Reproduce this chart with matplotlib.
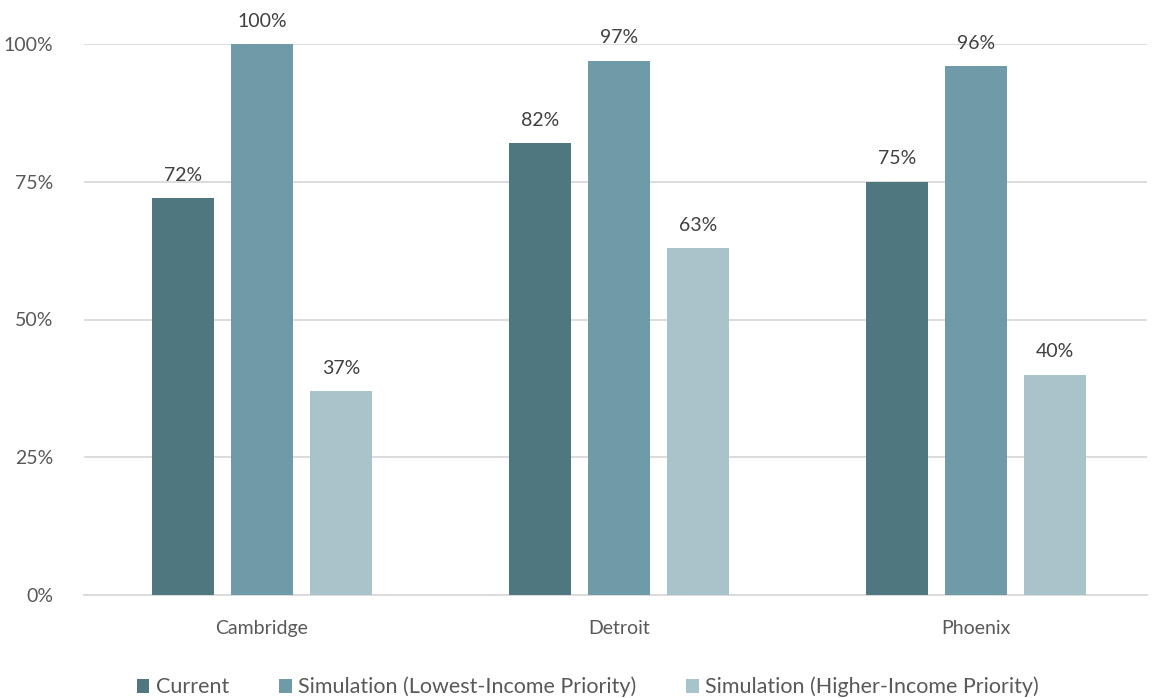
import matplotlib.pyplot as plt
import numpy as np

plt.rcParams['font.family'] = ['Lato', 'DejaVu Sans']

cities = ['Cambridge', 'Detroit', 'Phoenix']
series = ['Current', 'Simulation (Lowest-Income Priority)', 'Simulation (Higher-Income Priority)']
current = [72, 82, 75]
sim_lowest = [100, 97, 96]
sim_higher = [37, 63, 40]
colors = ['#4E7780', '#6E9BA7', '#A9C3CA']

fig = plt.figure(figsize=(11.57, 6.98), dpi=100)
ax = fig.add_axes([84 / 1157, 1 - 595 / 698, 1063 / 1157, 551 / 698])

x = np.arange(len(cities))
width = 0.174
step = 0.221
for k, (vals, name, col) in enumerate(zip([current, sim_lowest, sim_higher], series, colors)):
    bars = ax.bar(x + (k - 1) * step, vals, width, color=col, label=name, zorder=3)
    for b, v in zip(bars, vals):
        ax.text(b.get_x() + b.get_width() / 2, v + 2.6, f'{v}%', ha='center', va='bottom',
                fontsize=14, color='#404040', clip_on=False)

ax.set_xlim(-0.4986, 2.479)
ax.set_ylim(0, 100)
ax.set_yticks([0, 25, 50, 75, 100])
ax.set_yticklabels([f'{t}%' for t in [0, 25, 50, 75, 100]])
ax.set_xticks(x)
ax.set_xticklabels(cities)
ax.tick_params(axis='both', length=0, labelsize=14, labelcolor='#595959')
ax.tick_params(axis='y', pad=22)
ax.tick_params(axis='x', pad=18)
ax.grid(axis='y', color='#D9D9D9', linewidth=1.3, zorder=0)
for s in ['top', 'right', 'left']:
    ax.spines[s].set_visible(False)
ax.spines['bottom'].set_color('#D9D9D9')
ax.spines['bottom'].set_linewidth(1.3)

fig.legend(loc='lower center', bbox_to_anchor=(0.508, -0.027), ncol=3, frameon=False,
           fontsize=15.5, labelcolor='#595959', handlelength=0.6, handleheight=0.6,
           handletextpad=0.3, columnspacing=2.3)

fig.savefig('out.png', dpi=100)
